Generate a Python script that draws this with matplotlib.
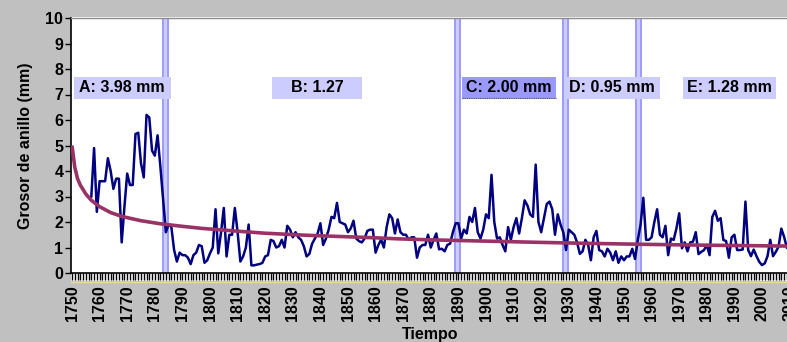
import matplotlib
matplotlib.use("Agg")
import matplotlib.pyplot as plt
from matplotlib.patches import Rectangle

plt.rcParams['font.family'] = ['Liberation Sans', 'DejaVu Sans']
plt.rcParams['font.weight'] = 'bold'

# ring widths (mm), one value per year from 1757 to 2009
start_year = 1757
ring_width = [
    3.0, 4.9, 2.4,                                                  # 1757-1759
    3.6, 3.6, 3.6, 4.5, 4.0, 3.3, 3.7, 3.7, 1.2, 2.6,               # 1760s
    3.9, 3.45, 3.45, 5.45, 5.5, 4.3, 3.75, 6.2, 6.1, 4.8,           # 1770s
    4.6, 5.4, 4.2, 2.9, 1.6, 1.9, 1.8, 0.9, 0.45, 0.8,              # 1780s
    0.7, 0.7, 0.6, 0.35, 0.7, 0.8, 1.1, 1.05, 0.4, 0.5,             # 1790s
    0.77, 1.0, 2.5, 0.77, 1.6, 2.55, 0.65, 1.5, 1.5, 2.55,          # 1800s
    1.6, 0.45, 0.65, 1.0, 1.9, 0.3, 0.3, 0.33, 0.35, 0.4,           # 1810s
    0.65, 0.7, 1.3, 1.25, 1.0, 1.05, 1.3, 1.0, 1.85, 1.7,           # 1820s
    1.4, 1.6, 1.4, 1.3, 1.05, 0.65, 0.75, 1.15, 1.35, 1.55,         # 1830s
    1.95, 1.1, 1.35, 1.7, 2.2, 2.15, 2.75, 2.0, 1.95, 1.9,          # 1840s
    1.6, 1.75, 2.05, 1.35, 1.25, 1.2, 1.35, 1.65, 1.7, 1.7,         # 1850s
    0.8, 1.1, 1.3, 1.0, 1.8, 2.3, 2.15, 1.55, 2.1, 1.6,             # 1860s
    1.5, 1.5, 1.3, 1.4, 1.4, 0.6, 1.0, 1.1, 1.1, 1.5,               # 1870s
    1.0, 1.3, 1.55, 0.93, 0.95, 0.85, 1.1, 1.15, 1.6, 1.95,         # 1880s
    1.95, 1.35, 1.7, 1.55, 2.2, 2.0, 2.55, 1.6, 1.35, 1.7,          # 1890s
    2.3, 2.15, 3.85, 2.0, 1.35, 1.4, 1.1, 0.85, 1.8, 1.3,           # 1900s
    1.8, 2.15, 1.55, 2.15, 2.85, 2.65, 2.3, 2.2, 4.25, 2.0,         # 1910s
    1.6, 2.15, 2.7, 2.8, 2.5, 1.5, 2.3, 1.9, 1.6, 0.9,              # 1920s
    1.7, 1.6, 1.5, 1.2, 0.75, 0.85, 1.3, 1.1, 0.5, 1.4,             # 1930s
    1.65, 0.9, 0.85, 0.65, 0.95, 0.8, 0.5, 0.85, 0.4, 0.65,         # 1940s
    0.5, 0.65, 0.65, 0.95, 0.55, 1.3, 1.9, 2.95, 1.3, 1.3,          # 1950s
    1.4, 2.0, 2.5, 1.5, 1.4, 1.85, 0.7, 1.35, 1.3, 1.75,            # 1960s
    2.34, 0.97, 1.2, 0.85, 1.2, 1.23, 1.6, 0.74, 0.83, 0.9,         # 1970s
    1.1, 0.7, 2.2, 2.44, 2.05, 2.15, 1.3, 1.25, 0.6, 1.4,           # 1980s
    1.5, 0.9, 0.9, 0.92, 2.8, 0.9, 0.66, 0.92, 0.66, 0.44,          # 1990s
    0.31, 0.38, 0.66, 1.3, 0.66, 0.83, 1.03, 1.74, 1.42, 1.0,       # 2000s
]
years = list(range(start_year, start_year + len(ring_width)))

# growth curve
curve_years = [1750, 1751, 1752, 1753, 1755, 1757, 1760, 1764, 1768, 1775,
               1782, 1790, 1797, 1810, 1820, 1835, 1845, 1860, 1868, 1880,
               1900, 1920, 1938, 1960, 1980, 2015]
curve_vals = [5.0, 4.15, 3.7, 3.45, 3.1, 2.85, 2.6, 2.37, 2.22, 2.05,
              1.93, 1.83, 1.75, 1.64, 1.56, 1.48, 1.44, 1.38, 1.34, 1.3,
              1.25, 1.2, 1.16, 1.12, 1.09, 1.05]

# period boundaries (double lines) and labels
breaks = [(1782.9, 1784.7), (1888.7, 1890.5), (1927.8, 1929.6), (1954.3, 1956.2)]
label_texts = ['A: 3.98 mm', 'B: 1.27', 'C: 2.00 mm', 'D: 0.95 mm', 'E: 1.28 mm']
label_centers = [1768.2, 1838.8, 1908.3, 1945.7, 1988.2]
label_widths = [35, 32.5, 34, 35, 33.5]

W, H = 787, 342
fig = plt.figure(figsize=(W / 100, H / 100), dpi=100, facecolor='#c0c0c0')

px_per_year = 2.76
x0 = 1750 - 1 / px_per_year
x1 = 2015
left_px, axis_px, top_px = 71, 273, 18
ax_w_px = (x1 - x0) * px_per_year
ax = fig.add_axes([left_px / W, (H - axis_px) / H,
                   ax_w_px / W, (axis_px - top_px) / H])
ax.set_facecolor('white')

# white plot-area frame extending below the axis line
fig.patches.append(Rectangle((left_px / W, (H - 281) / H), 1, (281 - 17) / H,
                             transform=fig.transFigure, facecolor='white',
                             edgecolor='none', zorder=-1))
fig.lines.append(plt.Line2D([left_px / W, 1], [(H - 281.5) / H] * 2,
                            transform=fig.transFigure, color='#f2dc8c', lw=1))
fig.lines.append(plt.Line2D([left_px / W, 1], [(H - 17.5) / H] * 2,
                            transform=fig.transFigure, color='#8c8c8c', lw=1))

for a, b in breaks:
    ax.axvspan(a - 0.4, b + 0.4, color='#ccccff', lw=0, zorder=1)
    ax.axvline(a, color='#9999ff', lw=1.3, zorder=1)
    ax.axvline(b, color='#9999ff', lw=1.3, zorder=1)

ax.plot(years, ring_width, color='#000080', lw=1.8, zorder=3)
ax.plot(curve_years, curve_vals, color='#993366', lw=2.6, zorder=4,
        solid_capstyle='butt')

for txt, xc, w in zip(label_texts, label_centers, label_widths):
    fc = '#9999ff' if txt.startswith('C') else '#ccccff'
    ax.add_patch(Rectangle((xc - w / 2, 6.84), w, 0.86, facecolor=fc,
                           edgecolor='none', zorder=5))
    if txt.startswith('C'):
        ax.plot([xc - w / 2, xc + w / 2], [6.86, 6.86], color='#555555',
                lw=0.8, ls=(0, (1, 1)), zorder=6)
    ax.text(xc, 7.26, txt, ha='center', va='center', fontsize=11.5,
            fontweight='bold', zorder=7)

ax.set_xlim(x0, x1)
ax.set_ylim(0, 10)
ax.set_xticks(range(1750, 2015, 10))
ax.set_xticks(range(1750, 2015), minor=True)
ax.set_yticks(range(0, 11))
ax.tick_params(axis='x', which='both', direction='out', length=5, width=1.0,
               labelsize=11.5, pad=4, labelrotation=90)
ax.tick_params(axis='y', direction='out', length=4, width=1.0,
               labelsize=11.5, pad=1.5)
for lab in ax.get_xticklabels() + ax.get_yticklabels():
    lab.set_fontweight('bold')

for s in ['top', 'right']:
    ax.spines[s].set_visible(False)
ax.spines['left'].set_linewidth(1.2)
ax.spines['bottom'].set_linewidth(1.2)

ax.set_ylabel('Grosor de anillo (mm)', fontsize=11.5, fontweight='bold')
ax.yaxis.set_label_coords((33 - left_px) / ax_w_px, 0.5)
fig.text(430 / W, (H - 334) / H, 'Tiempo', ha='center', va='center',
         fontsize=11.5, fontweight='bold')

fig.savefig('out.png', dpi=100, facecolor=fig.get_facecolor())
